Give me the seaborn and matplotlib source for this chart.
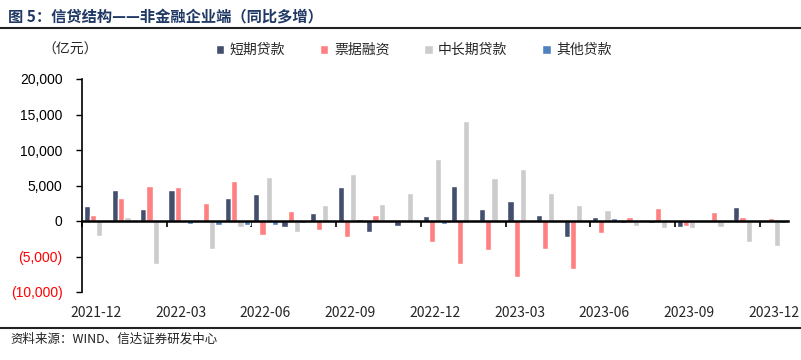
import numpy as np
import pandas as pd
import matplotlib
matplotlib.use("Agg")
import matplotlib.pyplot as plt
import seaborn as sns

# 数据（亿元，同比多增）
months = ["2021-12", "2022-01", "2022-02", "2022-03", "2022-04", "2022-05", "2022-06",
          "2022-07", "2022-08", "2022-09", "2022-10", "2022-11", "2022-12",
          "2023-01", "2023-02", "2023-03", "2023-04", "2023-05", "2023-06",
          "2023-07", "2023-08", "2023-09", "2023-10", "2023-11", "2023-12"]
short_loans = [2100, 4400, 1700, 4400, 200, 3300, 3850, -900, 1100, 4800, -1500, -650, 650,
               5000, 1700, 2800, 850, -2300, 550, -250, -250, -900, 50, 2000, -200]
bill_fin = [800, 3300, 5000, 4800, 2500, 5700, -2000, 1400, -1200, -2200, 800, 50, -3000,
            -6000, -4100, -7900, -3900, -6800, -1650, 500, 1900, -700, 1300, 550, 400]
mid_long = [-2100, 600, -6000, -100, -3900, -900, 6200, -1500, 2200, 6600, 2400, 4000, 8800,
            14100, 6100, 7300, 4000, 2200, 1500, -750, -950, -1000, -800, -3000, -3500]
other_loans = [0, 50, -100, -400, -500, -600, -500, -300, -100, 300, 0, 0, -400,
               0, 50, 0, 0, 50, 400, 0, 50, 100, 0, -100, -350]

series = ["短期贷款", "票据融资", "中长期贷款", "其他贷款"]
colors = ["#444F6E", "#FF8080", "#CCCCCC", "#4F81BD"]

df = pd.DataFrame({"月份": months, "短期贷款": short_loans, "票据融资": bill_fin,
                   "中长期贷款": mid_long, "其他贷款": other_loans})
df = df.melt(id_vars="月份", var_name="类型", value_name="值")

sns.set_style("white")
plt.rcParams['font.family'] = ['Noto Sans CJK SC', 'DejaVu Sans']
plt.rcParams['axes.unicode_minus'] = False

fig = plt.figure(figsize=(8.01, 3.6), dpi=100)
W, H = 801, 360
ax = fig.add_axes([82 / W, 1 - 292 / H, (788 - 82) / W, (292 - 79) / H])

sns.barplot(data=df, x="月份", y="值", hue="类型", hue_order=series,
            palette=colors, width=0.88, saturation=1, ax=ax, legend=True)

ax.set_xlim(-0.5, len(months) - 0.5)
ax.set_ylim(-10000, 20000)
ax.set_yticks(np.arange(-10000, 20001, 5000))

def fmt(v):
    v = int(v)
    return f"({abs(v):,})" if v < 0 else f"{v:,}"

ax.set_yticklabels([fmt(v) for v in ax.get_yticks()], fontfamily="Liberation Sans", fontsize=10)
for lab, v in zip(ax.get_yticklabels(), ax.get_yticks()):
    lab.set_color("red" if v < 0 else "black")
ax.tick_params(axis="y", direction="out", length=4, width=1, color="black", left=True, pad=10)

ax.set_xticks(range(0, len(months), 3))
ax.set_xticklabels(months[::3], fontfamily="Liberation Sans", fontsize=10)
ax.set_xticks(np.arange(-0.5, len(months), 3), minor=True)
ax.tick_params(axis="x", which="major", length=0, pad=61)
ax.tick_params(axis="x", which="minor", direction="out", length=4, width=1.2,
               color="black", bottom=True)

for s in ["top", "right"]:
    ax.spines[s].set_visible(False)
ax.spines["left"].set_color("black")
ax.spines["left"].set_linewidth(1.2)
ax.spines["bottom"].set_position(("data", 0))
ax.spines["bottom"].set_color("black")
ax.spines["bottom"].set_linewidth(1.8)
ax.spines["bottom"].set_zorder(5)
ax.set_xlabel("")
ax.set_ylabel("")

handles, labels = ax.get_legend_handles_labels()
ax.get_legend().remove()
fig.legend(handles, labels, loc="center left", bbox_to_anchor=(216 / W, 1 - 50 / H),
           ncol=4, frameon=False, fontsize=10, handlelength=0.6, handleheight=0.6,
           handletextpad=0.4, columnspacing=2.5, borderaxespad=0, borderpad=0)

fig.text(42 / W, 1 - 50 / H, "（亿元）", fontsize=10, va="center", ha="left")
fig.text(8 / W, 1 - 16 / H, "图 5：信贷结构——非金融企业端（同比多增）", fontsize=11,
         fontweight="bold", color="#1F3864", va="center", ha="left")
fig.add_artist(plt.Line2D([0, 1], [1 - 28 / H] * 2, color="#222222", lw=1.5))
fig.add_artist(plt.Line2D([0, 1], [1 - 328 / H] * 2, color="#222222", lw=1.5))
fig.text(10 / W, 1 - 339 / H, "资料来源：WIND、信达证券研发中心", fontsize=9,
         style="italic", color="#222222", va="center", ha="left")

fig.savefig("out.png", dpi=100)
